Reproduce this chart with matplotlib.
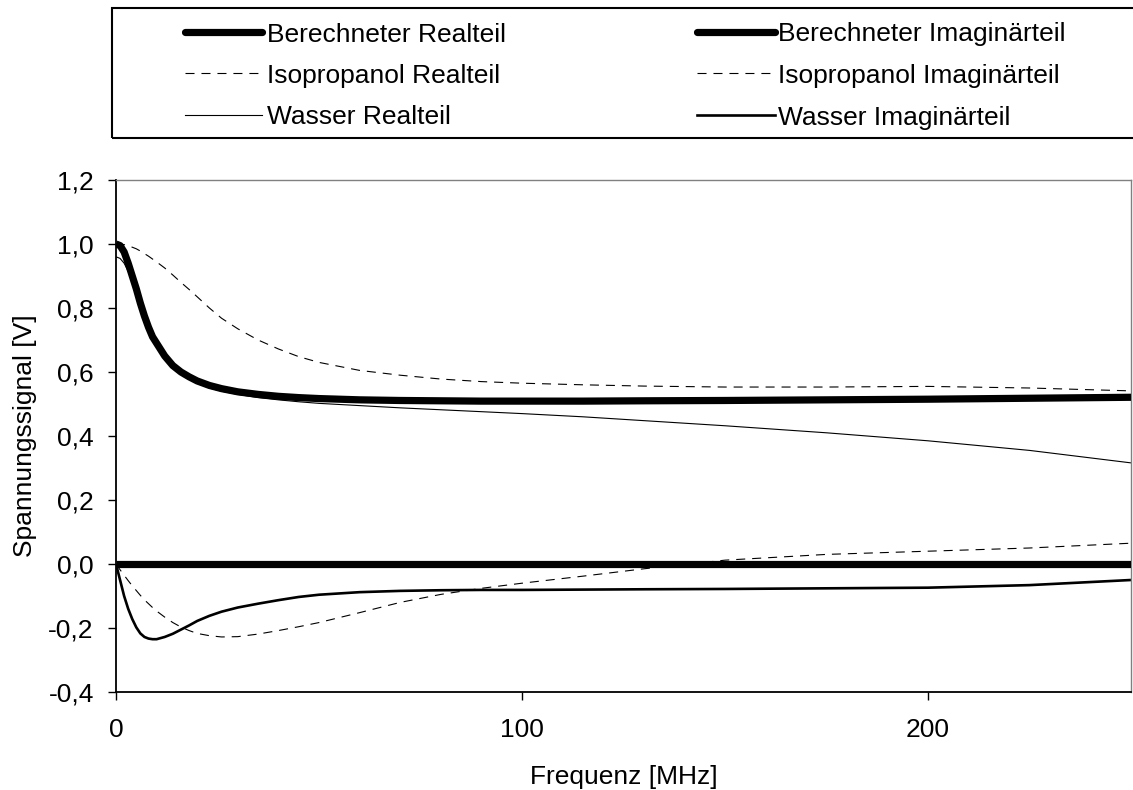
import matplotlib
matplotlib.use("Agg")
import matplotlib.pyplot as plt
from matplotlib.lines import Line2D
from matplotlib.patches import Rectangle
from matplotlib.ticker import FuncFormatter, FixedLocator

plt.rcParams['font.family'] = ['Liberation Sans', 'DejaVu Sans']
plt.rcParams['lines.scale_dashes'] = False

# Frequency grid in MHz
freq = [0, 1, 2, 3, 4, 5, 6, 7, 8, 9, 10, 12, 14, 16, 18, 20, 23, 26, 30, 35,
        40, 45, 50, 60, 70, 80, 90, 100, 115, 130, 150, 175, 200, 225, 250]

# Signals in V
calc_real = [1.0, 0.995, 0.975, 0.94, 0.90, 0.86, 0.815, 0.775, 0.74, 0.71, 0.69,
             0.65, 0.62, 0.60, 0.585, 0.572, 0.558, 0.548, 0.538, 0.53, 0.524,
             0.52, 0.517, 0.513, 0.511, 0.51, 0.509, 0.509, 0.509, 0.51, 0.511,
             0.513, 0.515, 0.518, 0.521]
calc_imag = [0.0] * len(freq)
iso_real = [1.0, 1.0, 0.998, 0.995, 0.99, 0.985, 0.978, 0.97, 0.962, 0.953, 0.944,
            0.925, 0.903, 0.88, 0.858, 0.835, 0.80, 0.768, 0.735, 0.70, 0.672,
            0.648, 0.63, 0.605, 0.59, 0.578, 0.57, 0.565, 0.56, 0.556, 0.553,
            0.553, 0.555, 0.55, 0.541]
iso_imag = [0.0, -0.018, -0.035, -0.052, -0.068, -0.083, -0.098, -0.112, -0.124,
            -0.136, -0.147, -0.166, -0.183, -0.197, -0.208, -0.217, -0.224, -0.228,
            -0.227, -0.219, -0.208, -0.196, -0.183, -0.152, -0.12, -0.095, -0.076,
            -0.06, -0.038, -0.015, 0.012, 0.03, 0.04, 0.05, 0.065]
water_real = [0.96, 0.955, 0.94, 0.915, 0.885, 0.85, 0.81, 0.775, 0.74, 0.71, 0.685,
              0.645, 0.615, 0.595, 0.578, 0.565, 0.55, 0.54, 0.53, 0.52, 0.513,
              0.507, 0.502, 0.495, 0.488, 0.482, 0.476, 0.47, 0.46, 0.448, 0.432,
              0.41, 0.385, 0.355, 0.316]
water_imag = [0.0, -0.05, -0.1, -0.14, -0.172, -0.198, -0.217, -0.228, -0.233,
              -0.235, -0.235, -0.228, -0.218, -0.205, -0.192, -0.178, -0.162,
              -0.149, -0.136, -0.124, -0.113, -0.103, -0.096, -0.088, -0.084,
              -0.082, -0.081, -0.081, -0.08, -0.079, -0.078, -0.076, -0.074,
              -0.066, -0.05]

labels = ["Berechneter Realteil", "Berechneter Imaginärteil",
          "Isopropanol Realteil", "Isopropanol Imaginärteil",
          "Wasser Realteil", "Wasser Imaginärteil"]

x_ticks = [0, 100, 200]
y_ticks = [-0.4, -0.2, 0.0, 0.2, 0.4, 0.6, 0.8, 1.0, 1.2]

FS = 19
W, H = 1133, 790
dash = (0, (6.5, 5))

styles = [
    dict(color='black', lw=5.2, ls='-', solid_capstyle='round'),
    dict(color='black', lw=5.2, ls='-', solid_capstyle='round'),
    dict(color='black', lw=0.8, ls=dash),
    dict(color='black', lw=0.8, ls=dash),
    dict(color='black', lw=0.8, ls='-'),
    dict(color='black', lw=1.9, ls='-'),
]
series = [calc_real, calc_imag, iso_real, iso_imag, water_real, water_imag]

fig = plt.figure(figsize=(W / 100, H / 100), dpi=100)
ax = fig.add_axes([116 / W, 1 - 692 / H, (1131 - 116) / W, (692 - 180) / H])

draw_order = [2, 3, 4, 5, 0, 1]
for i in draw_order:
    st = dict(styles[i])
    st['solid_capstyle'] = 'butt'
    ax.plot(freq, series[i], label=labels[i], zorder=3 if i < 2 else 2, **st)

ax.set_xlim(0, 250)
ax.set_ylim(-0.4, 1.2)
ax.xaxis.set_major_locator(FixedLocator(x_ticks))
ax.yaxis.set_major_locator(FixedLocator(y_ticks))
ax.yaxis.set_major_formatter(FuncFormatter(lambda v, p: f"{v:.1f}".replace('.', ',')))
ax.xaxis.set_major_formatter(FuncFormatter(lambda v, p: f"{v:.0f}"))
ax.tick_params(axis='both', direction='out', length=6, width=1, labelsize=FS,
               colors='black')
ax.tick_params(axis='y', pad=10)
ax.tick_params(axis='x', pad=13)
for side in ('left', 'bottom'):
    ax.spines[side].set_linewidth(1.3)
    ax.spines[side].set_color('black')
for side in ('top', 'right'):
    ax.spines[side].set_linewidth(1.0)
    ax.spines[side].set_color('#808080')

ax.set_xlabel("Frequenz [MHz]", fontsize=FS, labelpad=16)
ax.set_ylabel("Spannungssignal [V]", fontsize=FS, labelpad=8)

# Legend frame reaching past the right figure edge
fig.add_artist(Rectangle((112 / W, 1 - 138 / H), 1.0, 130 / H,
                         transform=fig.transFigure, fill=False,
                         edgecolor='black', lw=1.5, clip_on=False))

row_y = [32, 73, 115]
col_handle = [(185, 262), (697, 775)]
col_text = [267, 778]
for k, lab in enumerate(labels):
    r, c = divmod(k, 2)
    yy = 1 - row_y[r] / H
    x0, x1 = col_handle[c]
    fig.add_artist(Line2D([x0 / W, x1 / W], [yy, yy], transform=fig.transFigure,
                          **styles[k]))
    fig.text(col_text[c] / W, yy, lab, fontsize=FS, ha='left', va='center_baseline')

fig.savefig("out.png", dpi=100)
